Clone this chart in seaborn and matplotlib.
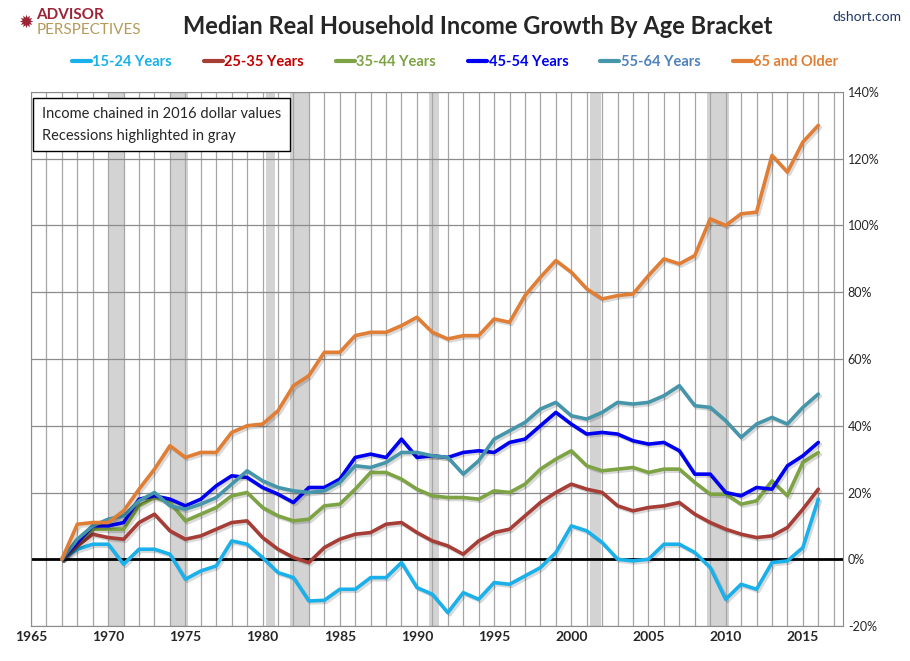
import numpy as np
import pandas as pd
import matplotlib
matplotlib.use("Agg")
import matplotlib.pyplot as plt
import matplotlib.patheffects as pe
import seaborn as sns

years = list(range(1967, 2017))

age_15_24 = [0, 3, 4.5, 4.5, -1.5, 3, 3, 1.5, -6, -3.5, -2, 5.5, 4.5, 0.5, -4, -5.5, -12.5, -12.3, -9, -9,
             -5.5, -5.5, -1, -8.5, -10.5, -16, -10, -12, -7, -7.5, -5, -2.5, 2, 10, 8.5, 5, 0, -0.5, 0, 4.5,
             4.5, 2, -2.5, -12, -7.5, -9, -1, -0.5, 3.5, 18]
age_25_35 = [0, 4, 7.5, 6.5, 6, 11, 13.5, 8.5, 6, 7, 9, 11, 11.5, 6.5, 3, 0.5, -1, 3.5, 6, 7.5,
             8, 10.5, 11, 8, 5.5, 4, 1.5, 5.5, 8, 9, 13, 17, 20, 22.5, 21, 20, 16, 14.5, 15.5, 16,
             17, 13.5, 11, 9, 7.5, 6.5, 7, 9.5, 15, 21]
age_35_44 = [0, 5, 9, 9, 9, 16, 18.5, 17, 11.5, 13.5, 15.5, 19, 20, 15.5, 13, 11.5, 12, 16, 16.5, 21,
             26, 26, 24, 21, 19, 18.5, 18.5, 18, 20.5, 20, 22.5, 27, 30, 32.5, 28, 26.5, 27, 27.5, 26, 27,
             27, 23, 19.5, 19.5, 16.5, 17.5, 23.5, 19, 29, 32]
age_45_54 = [0, 5, 10, 10, 11, 18, 19, 18, 16, 18, 22, 25, 24.5, 21.5, 19.5, 17, 21.5, 21.5, 24, 30.5,
             31.5, 30.5, 36, 30.5, 31, 30.5, 32, 32.5, 32, 35, 36, 40, 44, 40.5, 37.5, 38, 37.5, 35.5, 34.5, 35,
             32.5, 25.5, 25.5, 20, 19, 21.5, 21, 28, 31, 35]
age_55_64 = [0, 6, 10, 12, 13, 17.5, 20, 16, 15, 16.5, 18.5, 22.5, 26.5, 23.5, 21.5, 20.5, 20, 20.5, 23, 28,
             27.5, 29, 32, 32, 31, 30.5, 25.5, 29.5, 36, 38.5, 41, 45, 47, 43, 42, 44, 47, 46.5, 47, 49,
             52, 46, 45.5, 41.5, 36.5, 40.5, 42.5, 40.5, 45.5, 49.5]
age_65_up = [0, 10.5, 11, 11, 14.5, 21, 27, 34, 30.5, 32, 32, 38, 40, 40.5, 44.5, 52, 55, 62, 62, 67,
             68, 68, 70, 72.5, 68, 66, 67, 67, 72, 71, 79, 84.5, 89.5, 86, 81, 78, 79, 79.5, 85, 90,
             88.5, 91, 102, 100, 103.5, 104, 121, 116, 125, 130]

labels = ["15-24 Years", "25-35 Years", "35-44 Years", "45-54 Years", "55-64 Years", "65 and Older"]
colors = ["#1ab0ea", "#a63d36", "#7da344", "#0000f0", "#4596aa", "#e07e35"]
text_colors = ["#1ab0ea", "#c00000", "#7da344", "#0000f0", "#4f81bd", "#e07e35"]

recessions = [(1970.0, 1971.0), (1974.0, 1975.2), (1980.2, 1980.8), (1981.8, 1983.0),
              (1990.8, 1991.4), (2001.2, 2001.9), (2008.8, 2010.2)]

df = pd.DataFrame({"year": years, labels[0]: age_15_24, labels[1]: age_25_35, labels[2]: age_35_44,
                   labels[3]: age_45_54, labels[4]: age_55_64, labels[5]: age_65_up})
long = df.melt(id_vars="year", var_name="group", value_name="pct")

sns.set_style("white")
plt.rcParams["font.family"] = ["Lato", "DejaVu Sans"]

fig = plt.figure(figsize=(9.1, 6.61), dpi=100)
ax = fig.add_axes([31 / 910, 35 / 661, 812 / 910, 534 / 661])

for a, b in recessions:
    ax.axvspan(a, b, color="#d3d3d3", zorder=0, lw=0)

ax.set_xlim(1965, 2017.6)
ax.set_ylim(-20, 140)
ax.set_xticks(range(1965, 2016, 5))
ax.set_xticks(range(1965, 2018), minor=True)
ax.set_yticks(range(-20, 141, 20))
ax.yaxis.tick_right()
ax.set_yticklabels([f"{v}%" for v in range(-20, 141, 20)], fontsize=9)
ax.set_xticklabels([str(v) for v in range(1965, 2016, 5)], fontsize=10, fontweight="bold")
ax.grid(True, which="minor", axis="x", color="#a6a6a6", lw=0.9, zorder=1)
ax.grid(True, which="major", axis="x", color="#a6a6a6", lw=0.9, zorder=1)
ax.grid(True, which="major", axis="y", color="#8c8c8c", lw=0.9, zorder=1)
ax.tick_params(axis="both", which="both", length=0)
ax.axhline(0, color="black", lw=2, zorder=2)
for s in ax.spines.values():
    s.set_color("#8c8c8c")

sns.lineplot(data=long, x="year", y="pct", hue="group", palette=colors, hue_order=labels,
             lw=2.6, ax=ax, legend=False, zorder=3,
             path_effects=[pe.SimpleLineShadow(offset=(1.5, -1.5), alpha=0.15), pe.Normal()])
ax.set_xlabel("")
ax.set_ylabel("")

handles = [plt.Line2D([], [], color=c, lw=3) for c in colors]
fig.legend(handles, labels, loc="center", bbox_to_anchor=(0.5, 0.906), ncol=6, frameon=False,
           labelcolor=text_colors, prop={"weight": "bold", "size": 10.5}, handlelength=1.3,
           handletextpad=0.1, columnspacing=2.2)

ax.text(0.013, 0.972, "Income chained in 2016 dollar values\nRecessions highlighted in gray",
        transform=ax.transAxes, va="top", ha="left", fontsize=10.5, linespacing=1.7, zorder=5,
        bbox=dict(boxstyle="square,pad=0.6", fc="white", ec="black", lw=1))

fig.text(0.525, 0.96, "Median Real Household Income Growth By Age Bracket", ha="center", va="center",
         fontsize=17, fontweight="bold")
fig.text(0.99, 0.975, "dshort.com", ha="right", va="center", fontsize=10, color="#1f3864")
fig.text(0.04, 0.978, "ADVISOR", ha="left", va="center", fontsize=11, fontweight="bold", color="#9b2335")
fig.text(0.04, 0.955, "PERSPECTIVES", ha="left", va="center", fontsize=11, color="#b59b5a")
fig.text(0.02, 0.966, "\u2739", ha="left", va="center", fontsize=13, color="#9b2335",
         family=["DejaVu Sans"])

fig.savefig("out.png", dpi=100)
